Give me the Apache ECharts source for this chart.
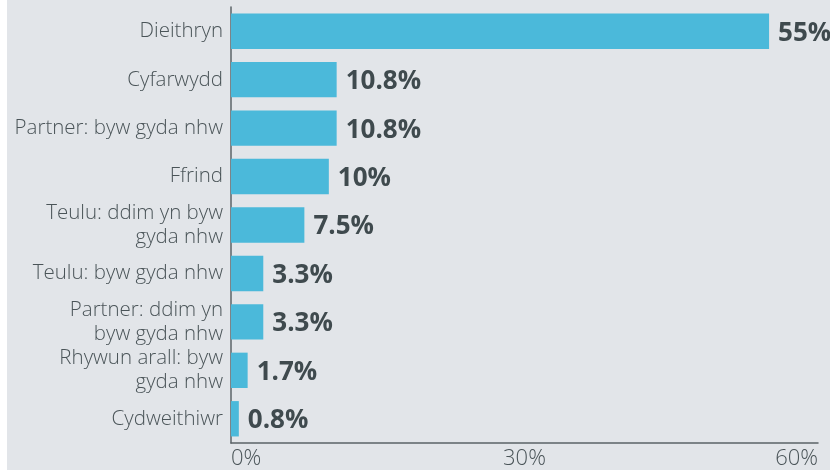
<!DOCTYPE html>
<html>
<head>
<meta charset="utf-8">
<script src="https://cdn.jsdelivr.net/npm/echarts@6/dist/echarts.min.js"></script>
<style>
  html, body { margin: 0; padding: 0; background: #ffffff; }
  #chart { position: absolute; left: 7px; top: 0; width: 823px; height: 470px; background: #e2e5e9; }
</style>
</head>
<body>
<div id="chart"></div>
<script>
// categories, top to bottom
const categories = [
  "Dieithryn",
  "Cyfarwydd",
  "Partner: byw gyda nhw",
  "Ffrind",
  "Teulu: ddim yn byw\ngyda nhw",
  "Teulu: byw gyda nhw",
  "Partner: ddim yn\nbyw gyda nhw",
  "Rhywun arall: byw\ngyda nhw",
  "Cydweithiwr"
];
const values = [55, 10.8, 10.8, 10, 7.5, 3.3, 3.3, 1.7, 0.8];
const xTicks = [0, 30, 60];

const chart = echarts.init(document.getElementById("chart"));
const textColor = "#4a5458";

const option = {
  animation: false,
  grid: { left: 224, right: 12, top: 7, bottom: 25 },
  xAxis: {
    type: "value",
    min: xTicks[0],
    max: xTicks[xTicks.length - 1],
    interval: xTicks[1] - xTicks[0],
    splitLine: { show: false },
    axisTick: { show: false },
    axisLine: { show: true, lineStyle: { color: "#5b6367", width: 1.5 } },
    axisLabel: {
      formatter: "{value}%",
      color: textColor,
      fontFamily: "Open Sans",
      fontWeight: 300,
      fontSize: 22,
      margin: 5,
      alignMinLabel: "left",
      alignMaxLabel: "right"
    }
  },
  yAxis: {
    type: "category",
    inverse: true,
    data: categories,
    axisTick: { show: false },
    axisLine: { show: true, lineStyle: { color: "#5b6367", width: 1.5 } },
    axisLabel: {
      color: textColor,
      fontFamily: "Open Sans",
      fontWeight: 300,
      fontSize: 20.5,
      lineHeight: 24,
      margin: 8
    }
  },
  series: [{
    type: "bar",
    data: values,
    barCategoryGap: "27%",
    itemStyle: { color: "#4bb9da" },
    label: {
      show: true,
      position: "right",
      distance: 9,
      offset: [0, 2],
      formatter: p => p.value + "%",
      color: "#3f4a4e",
      fontFamily: "Open Sans",
      fontWeight: "bold",
      fontSize: 26
    }
  }]
};
chart.setOption(option);
</script>
</body>
</html>
